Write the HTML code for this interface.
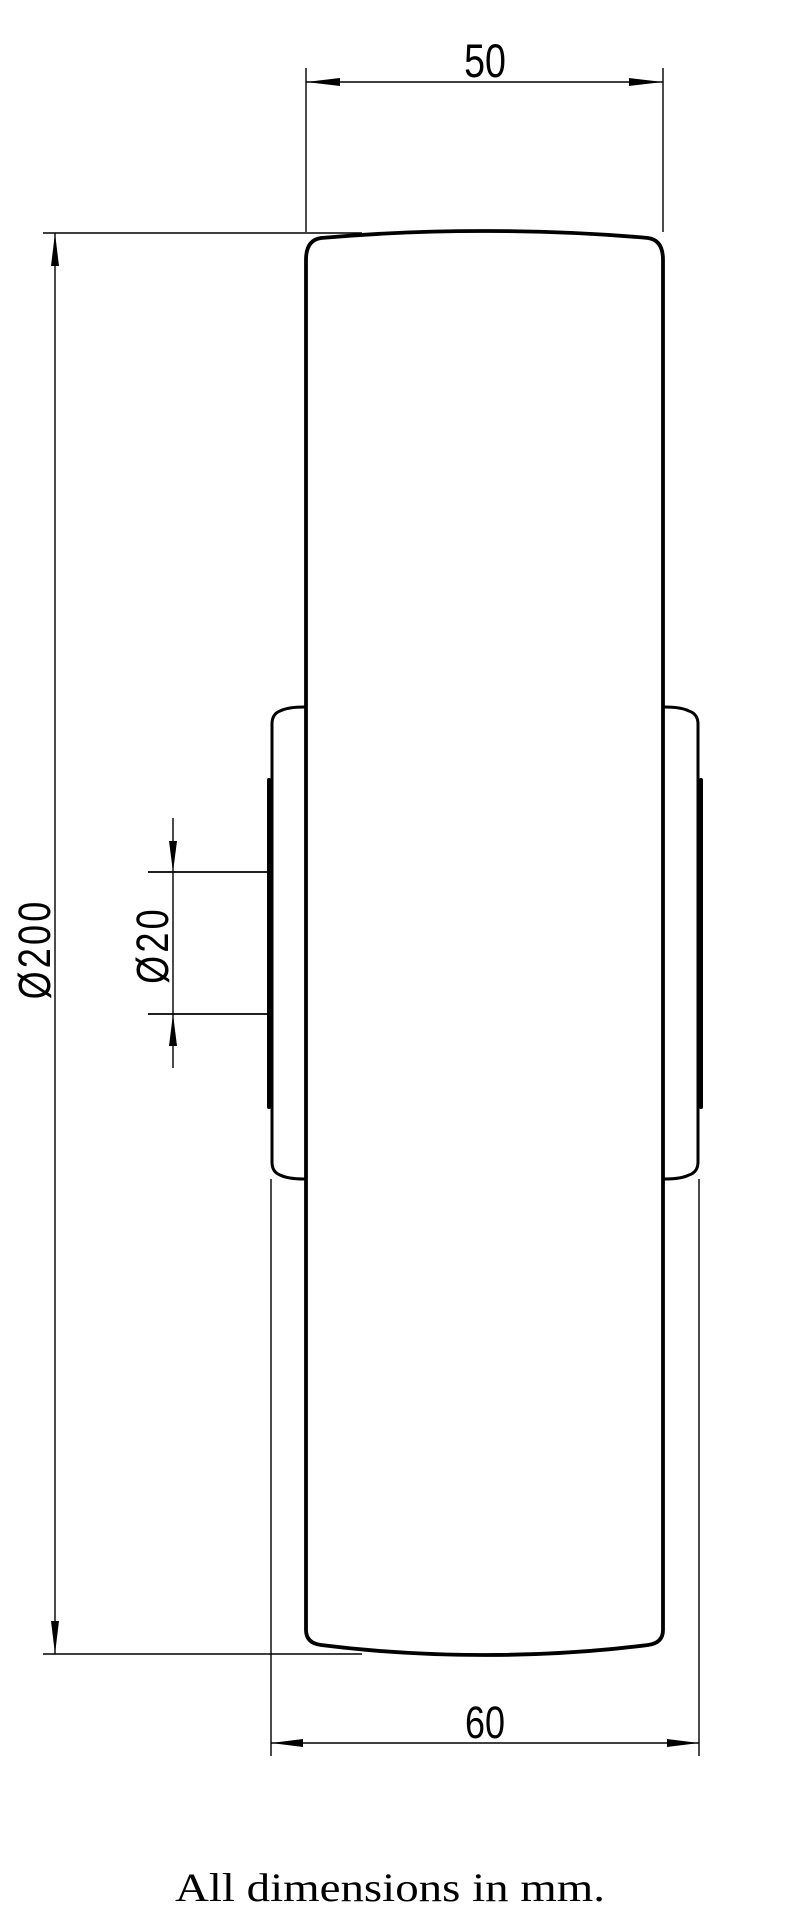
<!DOCTYPE html>
<html><head><meta charset="utf-8"><style>
html,body{margin:0;padding:0;background:#fff;}
svg{display:block;}
</style></head><body>
<svg width="802" height="1920" viewBox="0 0 802 1920" xmlns="http://www.w3.org/2000/svg">
<g fill="none" stroke="#000" stroke-linecap="round" stroke-linejoin="round">
  <!-- wheel outline -->
  <path d="M306,1630 L306,260 Q306,240 321,238 Q400,231 485,231 Q570,231 648,238 Q663,240 663,260 L663,1630 Q663,1643 648,1645 Q570,1655 485,1655 Q400,1655 321,1645 Q306,1643 306,1630 Z" stroke-width="3.8"/>
  <!-- left hub -->
  <path d="M304,707 Q288,707 280,711 Q272,714 272,724 L272,1162 Q272,1172 280,1175 Q288,1179 304,1179" stroke-width="3"/>
  <line x1="269" y1="780" x2="269" y2="1107" stroke-width="4"/>
  <!-- right hub -->
  <path d="M665,707 Q681,707 689,711 Q698,714 698,724 L698,1162 Q698,1172 689,1175 Q681,1179 665,1179" stroke-width="3"/>
  <line x1="701" y1="780" x2="701" y2="1107" stroke-width="4"/>
</g>
<g fill="none" stroke="#000" stroke-width="1.4">
  <!-- 50 dimension -->
  <line x1="306" y1="68" x2="306" y2="232"/>
  <line x1="663" y1="68" x2="663" y2="232"/>
  <line x1="306" y1="82" x2="663" y2="82"/>
  <!-- 200 dimension -->
  <line x1="43" y1="233" x2="362" y2="233"/>
  <line x1="43" y1="1654" x2="362" y2="1654"/>
  <line x1="55" y1="233" x2="55" y2="1654"/>
  <!-- 20 dimension -->
  <line x1="148" y1="872" x2="268" y2="872" stroke-width="1.8"/>
  <line x1="148" y1="1014" x2="268" y2="1014" stroke-width="1.8"/>
  <line x1="173" y1="818" x2="173" y2="1068"/>
  <!-- 60 dimension -->
  <line x1="271" y1="1179" x2="271" y2="1756"/>
  <line x1="699" y1="1179" x2="699" y2="1756"/>
  <line x1="271" y1="1743" x2="699" y2="1743"/>
</g>
<g fill="#000" stroke="none">
  <polygon points="306,82 340,78 340,86"/>
  <polygon points="663,82 629,78 629,86"/>
  <polygon points="55,233 51,266 59,266"/>
  <polygon points="55,1654 51,1621 59,1621"/>
  <polygon points="173,872 169,841 177,841"/>
  <polygon points="173,1014 169,1046 177,1046"/>
  <polygon points="271,1743 303,1739 303,1747"/>
  <polygon points="699,1743 667,1739 667,1747"/>
</g>
<g font-family="Liberation Sans, sans-serif" fill="#000">
  <text x="0" y="0" font-size="47" text-anchor="middle" transform="translate(485,77) scale(0.8,1)">50</text>
  <text x="0" y="0" font-size="45" text-anchor="middle" transform="translate(485,1738) scale(0.8,1)">60</text>
  <text x="0" y="0" font-size="45" text-anchor="middle" letter-spacing="4" transform="translate(50,949) rotate(-90) scale(0.8,1)">Ø200</text>
  <text x="0" y="0" font-size="45" text-anchor="middle" letter-spacing="4" transform="translate(168,945) rotate(-90) scale(0.8,1)">Ø20</text>
</g>
<text x="390" y="1901" font-family="Liberation Serif, serif" font-size="40" text-anchor="middle" textLength="430" lengthAdjust="spacingAndGlyphs" fill="#000">All dimensions in mm.</text>
</svg>
</body></html>
